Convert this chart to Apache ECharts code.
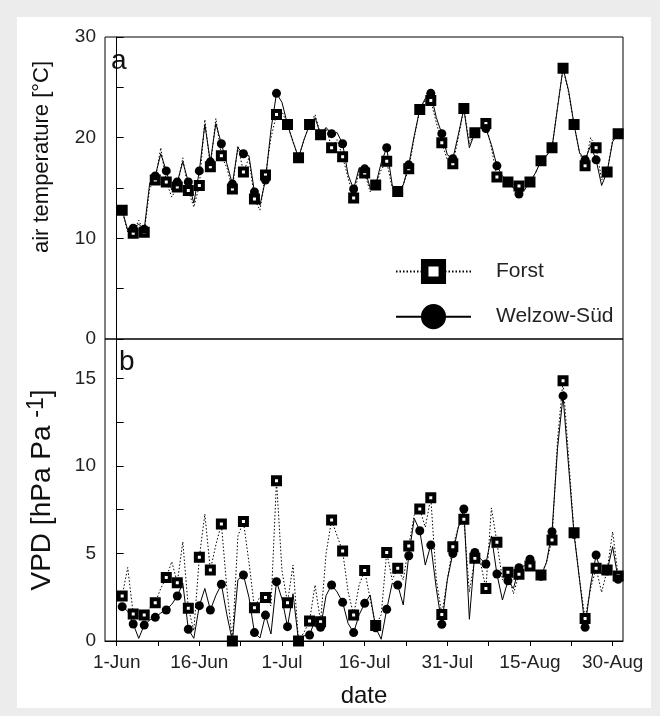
<!DOCTYPE html>
<html><head><meta charset="utf-8">
<script src="https://cdn.jsdelivr.net/npm/echarts@6/dist/echarts.min.js"></script>
<style>
html,body{margin:0;padding:0;background:#ececec;width:660px;height:716px;overflow:hidden}
#panel{position:absolute;left:17px;top:17px;width:634px;height:691px;background:#fff}
#chart{position:absolute;left:0;top:0;width:660px;height:716px}
</style></head><body><div id="panel"></div><div id="chart"></div>
<script>
// day offset (days after 1 June) of the first daily value
const firstDay = 1;
const forstTemp = [
12.8, 10.6, 10.5, 11.8, 10.6, 15.0, 15.8, 19.0, 15.6, 14.1,
15.1, 18.0, 14.75, 13.1, 15.25, 21.8, 17.1, 21.9, 18.2, 17.0,
14.9, 19.2, 16.6, 18.0, 13.9, 12.8, 16.3, 20.0, 22.3, 22.6,
21.3, 19.6, 18.0, 19.8, 21.3, 22.3, 20.3, 21.0, 19.0, 19.8,
18.1, 16.0, 14.0, 16.8, 16.5, 14.6, 15.3, 16.8, 17.65, 15.0,
14.65, 15.3, 16.9, 20.0, 22.8, 23.7, 23.7, 21.5, 19.5, 17.8,
17.4, 20.0, 22.9, 19.4, 20.5, 21.0, 21.4, 19.0, 16.1, 16.0,
15.6, 15.4, 15.2, 15.1, 15.6, 16.5, 17.7, 18.2, 19.0, 23.0,
26.9, 24.5, 21.3, 18.5, 17.2, 20.0, 19.0, 15.8, 16.6, 19.8,
20.4];
const welzowTemp = [
12.8, 10.8, 11.0, 11.4, 10.9, 15.5, 16.2, 18.4, 16.7, 14.8,
15.6, 17.6, 15.6, 13.5, 16.7, 21.3, 17.6, 21.4, 19.4, 17.4,
15.4, 19.0, 18.4, 18.2, 14.6, 13.3, 15.8, 20.8, 24.4, 23.5,
21.3, 19.6, 18.0, 19.8, 21.3, 22.0, 20.3, 21.0, 20.4, 20.5,
19.4, 16.3, 14.9, 17.0, 16.9, 15.0, 15.3, 17.5, 19.0, 15.3,
14.65, 15.3, 17.3, 20.2, 22.8, 23.9, 24.4, 22.0, 20.4, 18.3,
17.9, 20.3, 22.9, 19.0, 20.5, 21.0, 20.9, 19.3, 17.2, 16.2,
15.6, 15.0, 14.4, 14.8, 15.6, 16.5, 17.7, 18.2, 19.0, 23.0,
26.9, 24.7, 21.3, 18.5, 17.8, 19.2, 17.8, 15.25, 16.6, 19.6,
20.4];
const forstVPD = [
2.57, 4.2, 1.54, 1.3, 1.48, 1.9, 2.19, 3.0, 3.62, 4.53,
3.33, 5.67, 1.87, 0.6, 4.78, 7.25, 4.05, 5.5, 6.68, 3.0,
0.0, 6.0, 6.82, 4.5, 1.9, 2.53, 2.48, 2.0, 9.16, 4.0,
2.19, 4.34, 0.0, 0.5, 1.14, 3.2, 1.1, 5.0, 6.91, 6.0,
5.14, 2.8, 1.48, 3.2, 4.02, 2.4, 0.88, 1.5, 5.06, 3.5,
4.15, 3.5, 5.43, 7.2, 7.54, 6.5, 8.18, 3.5, 1.52, 3.5,
5.39, 6.5, 6.95, 2.8, 4.72, 4.5, 3.0, 7.6, 5.64, 3.5,
3.92, 2.7, 3.81, 4.0, 4.28, 4.0, 3.77, 4.5, 5.77, 11.5,
14.87, 10.5, 6.19, 3.5, 1.29, 3.0, 4.15, 2.78, 4.05, 6.24,
3.71];
const welzowVPD = [
1.96, 1.7, 0.97, 0.15, 0.91, 1.2, 1.35, 1.6, 1.77, 2.1,
2.57, 3.3, 0.67, 0.15, 2.02, 3.0, 1.77, 2.6, 3.24, 1.5,
0.0, 3.5, 3.77, 2.5, 0.48, 0.17, 1.48, 0.4, 3.39, 2.4,
0.82, 2.7, 0.0, 0.3, 0.34, 1.2, 0.78, 2.6, 3.2, 2.8,
2.21, 1.0, 0.48, 1.5, 2.15, 2.63, 0.75, 0.1, 1.81, 3.3,
3.2, 2.06, 4.87, 7.0, 6.3, 4.34, 5.48, 3.0, 0.95, 3.5,
5.0, 6.5, 7.54, 1.24, 5.06, 4.7, 4.4, 6.0, 3.83, 2.34,
3.44, 3.0, 4.19, 4.3, 4.67, 4.0, 3.7, 4.5, 6.24, 11.0,
14.0, 10.0, 6.09, 3.5, 0.78, 3.2, 4.91, 3.8, 4.0, 5.39,
3.52];
const xTickDays = [0, 15, 30, 45, 60, 75, 90];
const xTickLabels = ['1-Jun', '16-Jun', '1-Jul', '16-Jul', '31-Jul', '15-Aug', '30-Aug'];
const xMinorTickDays = [0, 7.5, 15, 22.5, 30, 37.5, 45, 52.5, 60, 67.5, 75, 82.5, 90];
const seriesNames = ['Forst', 'Welzow-Süd'];

const FONT = 'Liberation Sans, Arial, sans-serif';
const toPts = arr => arr.map((v, i) => [firstDay + i, v]);
const markerPts = arr => toPts(arr).filter((p, i) => i % 2 === 0);

const forstLine = {color: '#000', width: 1, type: [1.5, 2]};
const welzowLine = {color: '#000', width: 1, type: 'solid'};
const sqStyle = {color: '#fff', borderColor: '#000', borderWidth: 4, opacity: 1};
const ciStyle = {color: '#000', borderColor: '#000', borderWidth: 0, opacity: 1};

function panelSeries(fArr, wArr, idx) {
  return [
    {name: seriesNames[0], type: 'line', xAxisIndex: idx, yAxisIndex: idx, data: toPts(fArr),
     symbol: 'rect', showSymbol: false, lineStyle: forstLine, itemStyle: sqStyle, silent: true, z: 2},
    {name: seriesNames[1], type: 'line', xAxisIndex: idx, yAxisIndex: idx, data: toPts(wArr),
     symbol: 'circle', showSymbol: false, lineStyle: welzowLine, itemStyle: ciStyle, silent: true, z: 2},
    {name: seriesNames[0], type: 'scatter', xAxisIndex: idx, yAxisIndex: idx, data: markerPts(fArr),
     symbol: 'rect', symbolSize: 7, itemStyle: sqStyle, silent: true, z: 3},
    {name: seriesNames[1], type: 'scatter', xAxisIndex: idx, yAxisIndex: idx, data: markerPts(wArr),
     symbol: 'circle', symbolSize: 9, itemStyle: ciStyle, silent: true, z: 4}
  ];
}

const xMin = -2.12, xMax = 91.88;
const labelStyle = {fontFamily: FONT, fontSize: 19, color: '#222'};

const option = {
  animation: false,
  backgroundColor: 'transparent',
  grid: [
    {left: 105, top: 37, width: 518, height: 302, show: true, borderColor: '#000', borderWidth: 1, backgroundColor: 'transparent'},
    {left: 105, top: 339, width: 518, height: 302, show: true, borderColor: '#000', borderWidth: 1, backgroundColor: 'transparent'}
  ],
  xAxis: [
    {gridIndex: 0, type: 'value', min: xMin, max: xMax, axisLine: {show: false}, axisTick: {show: false},
     axisLabel: {show: false}, splitLine: {show: false}},
    {gridIndex: 1, type: 'value', min: xMin, max: xMax,
     axisLine: {show: true, onZero: false, lineStyle: {color: '#000', width: 1}},
     axisTick: {show: true, length: 5, customValues: xMinorTickDays, lineStyle: {color: '#000'}},
     axisLabel: Object.assign({margin: 12, customValues: xTickDays,
       formatter: v => { const k = xTickDays.indexOf(v); return k >= 0 ? xTickLabels[k] : ''; }}, labelStyle),
     splitLine: {show: false},
     name: 'date', nameLocation: 'middle', nameGap: 43,
     nameTextStyle: {fontFamily: FONT, fontSize: 24, color: '#111'}}
  ],
  yAxis: [
    {gridIndex: 0, type: 'value', min: 0, max: 30, interval: 5,
     axisLine: {show: true, lineStyle: {color: '#000'}},
     axisTick: {show: true, inside: true, length: 7, lineStyle: {color: '#000'}},
     axisLabel: Object.assign({margin: 9, formatter: v => (v % 10 === 0 ? String(v) : '')}, labelStyle),
     splitLine: {show: false}},
    {gridIndex: 1, type: 'value', min: 0, max: 17.25, interval: 2.5,
     axisLine: {show: true, lineStyle: {color: '#000'}},
     axisTick: {show: true, inside: true, length: 7, lineStyle: {color: '#000'}},
     axisLabel: Object.assign({margin: 9, showMaxLabel: false,
       formatter: v => (v % 5 === 0 && v <= 15 ? String(v) : '')}, labelStyle),
     splitLine: {show: false}}
  ],
  legend: {
    orient: 'vertical', left: 395, top: 259, padding: 0,
    itemWidth: 75, itemHeight: 22, itemGap: 20,
    selectedMode: false,
    textStyle: {fontFamily: FONT, fontSize: 21, color: '#222', padding: [0, 0, 0, 20]},
    data: [
      {name: seriesNames[0], itemStyle: {color: '#fff', borderColor: '#000', borderWidth: 7.5}},
      {name: seriesNames[1], itemStyle: {color: '#000', borderColor: '#000', borderWidth: 7.5}}
    ]
  },
  graphic: [
    {type: 'text', x: 42, y: 157, rotation: Math.PI / 2,
     style: {text: 'air temperature [°C]', font: '22px ' + FONT, fill: '#111', align: 'center', verticalAlign: 'middle'}},
    {type: 'text', x: 42, y: 490, rotation: Math.PI / 2,
     style: {text: 'VPD [hPa Pa {sup|-1}]', font: '28px ' + FONT, fill: '#111', align: 'center', verticalAlign: 'middle',
       rich: {sup: {fontSize: 23, fontFamily: FONT, fill: '#111', padding: [0, 0, 10, 0]}}}},
    {type: 'text', x: 111, y: 61, style: {text: 'a', font: '28px ' + FONT, fill: '#111', align: 'left', verticalAlign: 'middle'}},
    {type: 'text', x: 119, y: 362, style: {text: 'b', font: '28px ' + FONT, fill: '#111', align: 'left', verticalAlign: 'middle'}}
  ],
  series: [].concat(panelSeries(forstTemp, welzowTemp, 0), panelSeries(forstVPD, welzowVPD, 1))
};

const chart = echarts.init(document.getElementById('chart'), null, {renderer: 'canvas'});
chart.setOption(option);
</script></body></html>
